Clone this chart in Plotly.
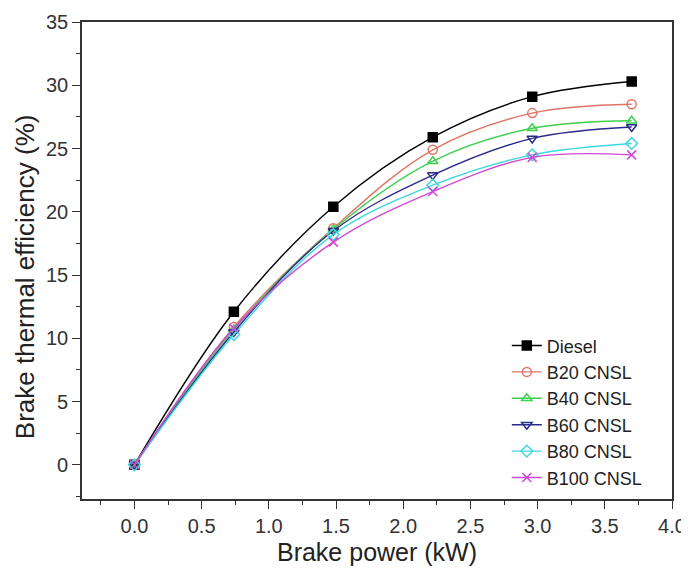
import plotly.graph_objects as go

brake_power = [0.0, 0.74, 1.48, 2.22, 2.96, 3.70]
diesel = [0.0, 12.1, 20.4, 25.9, 29.1, 30.3]
b20 = [0.0, 10.9, 18.7, 24.9, 27.8, 28.5]
b40 = [0.0, 10.7, 18.6, 24.0, 26.6, 27.2]
b60 = [0.0, 10.5, 18.5, 22.9, 25.8, 26.7]
b80 = [0.0, 10.3, 18.2, 22.1, 24.5, 25.4]
b100 = [0.0, 10.8, 17.6, 21.6, 24.3, 24.5]

x_title = "Brake power (kW)"
y_title = "Brake thermal efficiency (%)"

series = [
    ("Diesel", diesel, "#000000", "square"),
    ("B20 CNSL", b20, "#E07565", "circle-open"),
    ("B40 CNSL", b40, "#3FCF4F", "triangle-up-open"),
    ("B60 CNSL", b60, "#2A2A8A", "triangle-down-open"),
    ("B80 CNSL", b80, "#3FD8E0", "diamond-open"),
    ("B100 CNSL", b100, "#D048D8", "x-thin-open"),
]

fig = go.Figure()
for name, ys, color, sym in series:
    fig.add_trace(go.Scatter(
        x=brake_power, y=ys, name=name, mode="lines+markers",
        line=dict(color=color, width=1.4, shape="spline", smoothing=1.0),
        marker=dict(symbol=sym, size=9, color=color,
                    line=dict(color=color, width=1.5)),
    ))

# page body has an 8px default margin, so the figure is 8px smaller
fig.update_layout(
    width=681, height=564,
    margin=dict(l=74, r=17, t=14, b=73),
    paper_bgcolor="white", plot_bgcolor="white",
    font=dict(family="Liberation Sans, Arial, sans-serif", size=20, color="#333"),
    legend=dict(x=0.72, y=0.36, xanchor="left", yanchor="top",
                borderwidth=0, bgcolor="rgba(0,0,0,0)",
                font=dict(size=18, color="#222"), tracegroupgap=0),
    showlegend=True,
)
fig.add_annotation(
    text=y_title, textangle=-90, xref="paper", yref="paper",
    x=-0.0966, y=0.465, xanchor="center", yanchor="middle", showarrow=False,
    font=dict(size=26, color="#222"),
)
fig.update_xaxes(
    range=[-0.39, 4.0], tick0=0, dtick=0.5, tickformat=".1f",
    ticks="outside", ticklen=8, tickwidth=1.3, tickcolor="#333",
    minor=dict(ticks="outside", ticklen=4, dtick=0.25, tick0=0, tickcolor="#333"),
    showline=True, linecolor="#333", linewidth=1.6, mirror=True,
    showgrid=False, zeroline=False, automargin=False,
    title=dict(text=x_title, font=dict(size=25, color="#222"), standoff=8),
)
fig.update_yaxes(
    range=[-2.7, 35], tick0=0, dtick=5,
    ticks="outside", ticklen=8, tickwidth=1.3, tickcolor="#333",
    minor=dict(ticks="outside", ticklen=4, dtick=2.5, tick0=0, tickcolor="#333"),
    showline=True, linecolor="#333", linewidth=1.6, mirror=True,
    showgrid=False, zeroline=False, automargin=False,
)
fig.write_html("out.html")
